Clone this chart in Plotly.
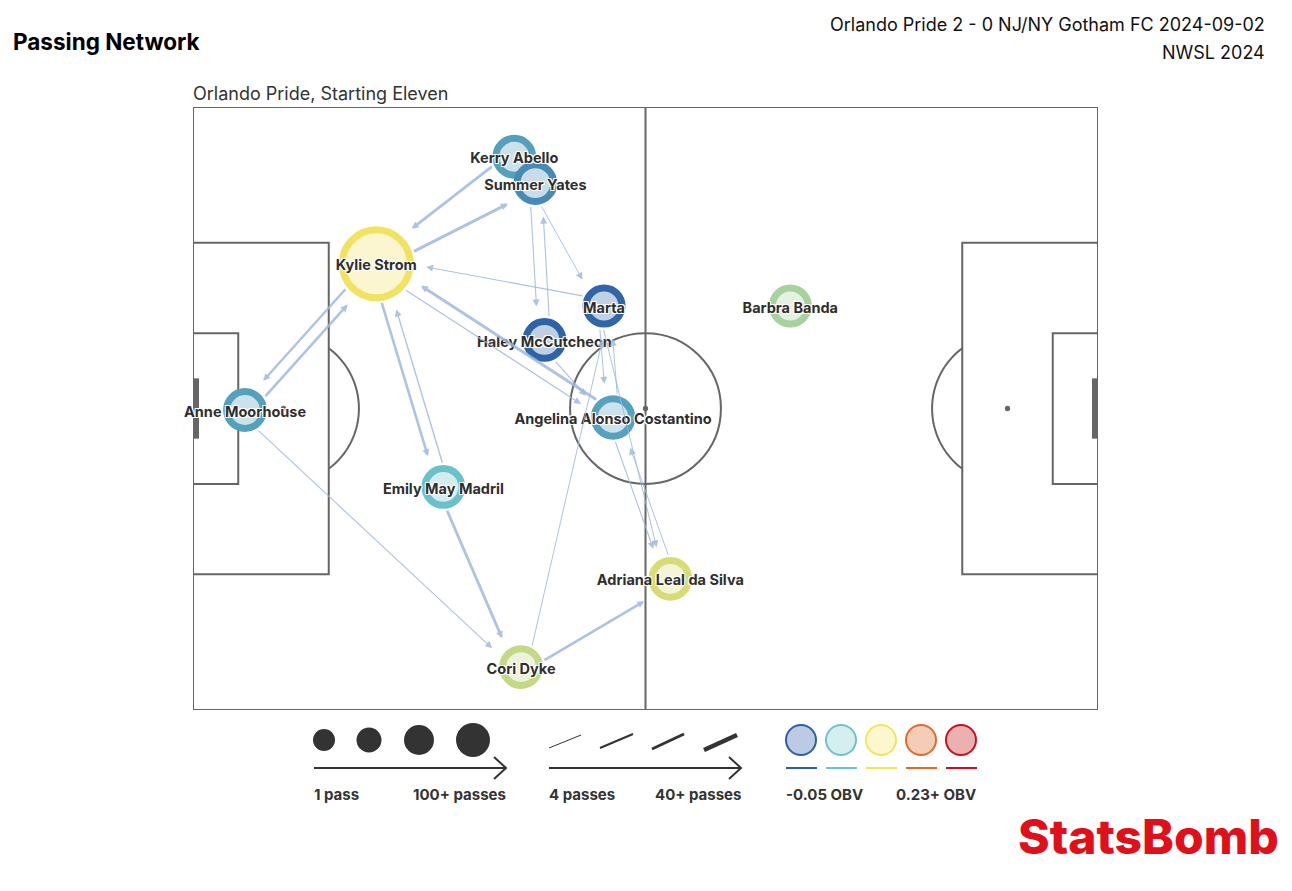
import numpy as np
import plotly.graph_objects as go

# ---------------- data ----------------
players = ["Kerry Abello", "Summer Yates", "Kylie Strom", "Marta", "Haley McCutcheon",
           "Anne Moorhouse", "Angelina Alonso Costantino", "Emily May Madril",
           "Adriana Leal da Silva", "Cori Dyke", "Barbra Banda"]
player_x = [42.6, 45.4, 24.3, 54.5, 46.6, 6.9, 55.7, 33.2, 63.3, 43.5, 79.2]
player_y = [6.6, 10.1, 20.8, 26.4, 30.9, 40.2, 41.2, 50.4, 62.6, 74.3, 26.4]
player_passes = [21, 21, 60, 20, 21, 21, 22, 21, 21, 21, 20]
player_obv = [-0.005, -0.02, 0.088, -0.045, -0.047, -0.005, -0.004, 0.018, 0.075, 0.065, 0.05]

edge_from = ["Kerry Abello", "Kylie Strom", "Kylie Strom", "Anne Moorhouse", "Kylie Strom",
             "Emily May Madril", "Marta", "Angelina Alonso Costantino", "Kylie Strom",
             "Summer Yates", "Haley McCutcheon", "Summer Yates", "Haley McCutcheon",
             "Angelina Alonso Costantino", "Marta", "Cori Dyke", "Marta",
             "Angelina Alonso Costantino", "Adriana Leal da Silva", "Anne Moorhouse",
             "Emily May Madril", "Cori Dyke"]
edge_to = ["Kylie Strom", "Summer Yates", "Anne Moorhouse", "Kylie Strom", "Emily May Madril",
           "Kylie Strom", "Kylie Strom", "Kylie Strom", "Angelina Alonso Costantino",
           "Haley McCutcheon", "Summer Yates", "Marta", "Angelina Alonso Costantino",
           "Marta", "Angelina Alonso Costantino", "Marta", "Adriana Leal da Silva",
           "Adriana Leal da Silva", "Angelina Alonso Costantino", "Cori Dyke",
           "Cori Dyke", "Adriana Leal da Silva"]
edge_passes = [22, 24, 18, 20, 20, 8, 5, 24, 6, 5, 5, 4, 5, 4, 4, 4, 4, 5, 4, 5, 22, 20]

obv_stops = [-0.05, 0.02, 0.09, 0.16, 0.23]
obv_colors = ["#2b5fa5", "#6cc4cb", "#f5e35f", "#e2692b", "#c8101a"]
obv_fills = ["#bccbe3", "#d5eeee", "#fdf7cf", "#f4cdb8", "#ebb0b0"]

title = "Passing Network"
subtitle = "Orlando Pride, Starting Eleven"
header1 = "Orlando Pride 2 - 0 NJ/NY Gotham FC 2024-09-02"
header2 = "NWSL 2024"

# ---------------- helpers ----------------
W, H = 1292, 891
L, R, T, B = 193, 1098, 107, 710
U = (R - L) / 120.0  # px per pitch unit


def hex2rgb(h):
    h = h.lstrip("#")
    return np.array([int(h[i:i + 2], 16) for i in (0, 2, 4)], dtype=float)


def rgb2hex(c):
    c = np.clip(np.round(c), 0, 255).astype(int)
    return "#%02x%02x%02x" % tuple(c)


def obv_color(v):
    v = min(max(v, obv_stops[0]), obv_stops[-1])
    for i in range(len(obv_stops) - 1):
        if v <= obv_stops[i + 1]:
            t = (v - obv_stops[i]) / (obv_stops[i + 1] - obv_stops[i])
            return (1 - t) * hex2rgb(obv_colors[i]) + t * hex2rgb(obv_colors[i + 1])
    return hex2rgb(obv_colors[-1])


ring = [rgb2hex(obv_color(v)) for v in player_obv]
fill = [rgb2hex(0.3 * obv_color(v) + 0.7 * np.array([255, 255, 255])) for v in player_obv]
RING_W = 7
sizes = [20 + 0.8 * p for p in player_passes]


def px(x):
    return (x - L) / (R - L)


def py(y):
    return (B - y) / (B - T)


fig = go.Figure()

# ---------------- pitch ----------------
LC = "#666666"
pl = dict(color=LC, width=2)
shapes = []
shapes.append(dict(type="rect", x0=0, y0=0, x1=120, y1=80, line=pl, layer="below"))
shapes.append(dict(type="line", x0=60, y0=0, x1=60, y1=80, line=pl, layer="below"))
shapes.append(dict(type="circle", x0=50, y0=30, x1=70, y1=50, line=pl, layer="below"))
for x0, x1 in [(0, 18), (102, 120)]:
    shapes.append(dict(type="rect", x0=x0, y0=18, x1=x1, y1=62, line=pl, layer="below"))
for x0, x1 in [(0, 6), (114, 120)]:
    shapes.append(dict(type="rect", x0=x0, y0=30, x1=x1, y1=50, line=pl, layer="below"))
for x0, x1 in [(0, 0.8), (119.2, 120)]:
    shapes.append(dict(type="rect", x0=x0, y0=36, x1=x1, y1=44, fillcolor=LC, line=dict(width=0), layer="below"))
for cx in [12, 60, 108]:
    shapes.append(dict(type="circle", x0=cx - 0.35, y0=39.65, x1=cx + 0.35, y1=40.35,
                       fillcolor=LC, line=dict(width=0), layer="below"))
a = np.arccos(0.6)
for cx, sgn in [(12, 1), (108, -1)]:
    th = np.linspace(-a, a, 40)
    xs = cx + sgn * 10 * np.cos(th)
    ys = 40 + 10 * np.sin(th)
    path = "M " + " L ".join(f"{x:.3f},{y:.3f}" for x, y in zip(xs, ys))
    shapes.append(dict(type="path", path=path, line=pl, layer="below"))

# ---------------- edges ----------------
idx = {p: i for i, p in enumerate(players)}
annotations = []
EDGE_C = "rgba(160,184,222,0.85)"
for s, t, n in zip(edge_from, edge_to, edge_passes):
    i, j = idx[s], idx[t]
    x0, y0, x1, y1 = player_x[i], player_y[i], player_x[j], player_y[j]
    d = np.array([x1 - x0, y1 - y0])
    dist = np.linalg.norm(d)
    u = d / dist
    nrm = np.array([-u[1], u[0]])
    off = 6 / U
    r_s = (sizes[i] + RING_W) / 2 / U
    r_t = (sizes[j] + RING_W) / 2 / U + 12 / U
    p0 = np.array([x0, y0]) + u * r_s + nrm * off
    p1 = np.array([x1, y1]) - u * r_t + nrm * off
    w = 1 + (min(n, 40) - 4) / 36 * 3.5
    annotations.append(dict(x=p1[0], y=p1[1], ax=p0[0], ay=p0[1], xref="x", yref="y",
                            axref="x", ayref="y", text="", showarrow=True, arrowhead=2,
                            arrowsize=max(0.45, 1.4 / w), arrowwidth=w, arrowcolor=EDGE_C,
                            standoff=0, startstandoff=0))

# ---------------- nodes ----------------
fig.add_trace(go.Scatter(
    x=player_x, y=player_y, mode="markers", hoverinfo="skip", cliponaxis=False,
    marker=dict(size=sizes, color=fill, line=dict(color=ring, width=RING_W), opacity=1),
    showlegend=False))
label_y = [y + 3 / U for y in player_y]  # labels sit a touch below node centre
fig.add_trace(go.Scatter(
    x=player_x, y=label_y, mode="text", text=players, hoverinfo="skip", cliponaxis=False,
    textposition="middle center",
    textfont=dict(family="Inter", size=14.5, color="#2e2e2e", weight="bold",
                  shadow="-1px -1px 0 #fff, 1px -1px 0 #fff, -1px 1px 0 #fff, 1px 1px 0 #fff"),
    showlegend=False))

# ---------------- legend (decorative) ----------------
DK = "#333333"
for cx, r in zip([324, 369, 419, 473], [11, 12.5, 15, 17]):
    shapes.append(dict(type="circle", xref="paper", yref="paper",
                       x0=px(cx - r), x1=px(cx + r), y0=py(740 + r), y1=py(740 - r),
                       fillcolor=DK, line=dict(width=0)))
for (xa, ya, xb, yb), w in zip([(549, 748, 581, 735), (600, 748, 633, 734),
                                 (652, 749, 684, 734), (704, 750, 737, 735)], [1, 2, 3, 4.5]):
    shapes.append(dict(type="line", xref="paper", yref="paper", x0=px(xa), y0=py(ya),
                       x1=px(xb), y1=py(yb), line=dict(color=DK, width=w)))
for xa, xb in [(314, 506), (549, 741)]:
    shapes.append(dict(type="line", xref="paper", yref="paper", x0=px(xa), y0=py(768),
                       x1=px(xb), y1=py(768), line=dict(color=DK, width=2)))
    shapes.append(dict(type="path", xref="paper", yref="paper",
                       path=f"M {px(xb-12)},{py(757)} L {px(xb)},{py(768)} L {px(xb-12)},{py(779)}",
                       line=dict(color=DK, width=2)))
for k, cx in enumerate([801, 841, 881, 921, 961]):
    shapes.append(dict(type="circle", xref="paper", yref="paper",
                       x0=px(cx - 15), x1=px(cx + 15), y0=py(755), y1=py(725),
                       fillcolor=obv_fills[k], line=dict(color=obv_colors[k], width=2)))
    shapes.append(dict(type="line", xref="paper", yref="paper", x0=px(cx - 15), y0=py(768),
                       x1=px(cx + 16), y1=py(768), line=dict(color=obv_colors[k], width=2)))


def txt(text, x, y, size, anchor="left", color=DK, weight="normal", family="Inter"):
    annotations.append(dict(text=text, x=px(x), y=py(y), xref="paper", yref="paper",
                            xanchor=anchor, yanchor="middle", showarrow=False,
                            font=dict(family=family, size=size, color=color, weight=weight)))


txt("1 pass", 312, 794, 15, "left", weight="bold")
txt("100+ passes", 508, 794, 15, "right", weight="bold")
txt("4 passes", 547, 794, 15, "left", weight="bold")
txt("40+ passes", 743, 794, 15, "right", weight="bold")
txt("-0.05 OBV", 784, 794, 15, "left", weight="bold")
txt("0.23+ OBV", 978, 794, 15, "right", weight="bold")

txt(title, 11, 41, 22.5, "left", color="#000000", weight="bold")
txt(header1, 1267, 25, 18, "right", color="#111111")
txt(header2, 1267, 53, 18, "right", color="#111111")
txt(subtitle, 191, 93, 18, "left", color="#333333")
txt("StatsBomb", 1281, 836, 48, "right", color="#e0101b", weight=800)

fig.update_layout(
    width=W, height=H, margin=dict(l=L, r=W - R, t=T, b=H - B, pad=0),
    paper_bgcolor="white", plot_bgcolor="white",
    xaxis=dict(range=[0, 120], visible=False, fixedrange=True),
    yaxis=dict(range=[80, 0], visible=False, fixedrange=True),
    shapes=shapes, annotations=annotations, showlegend=False,
)

fig.write_html("out.html", config={"displayModeBar": False},
               post_script="document.body.style.margin='0';document.body.style.overflow='hidden';")
